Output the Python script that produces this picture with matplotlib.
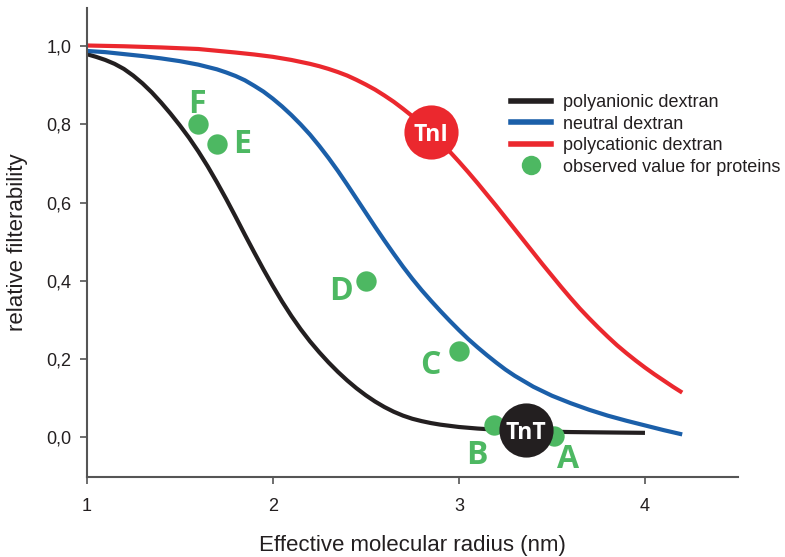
#!/usr/bin/env python3

import matplotlib

matplotlib.use("Agg")
import matplotlib.pyplot as plt
from matplotlib.lines import Line2D
from matplotlib.ticker import FuncFormatter

# Courbes de filtrabilité des dextrans (rayon en nm)
r_anion = [1.00, 1.05, 1.10, 1.15, 1.20, 1.25, 1.30, 1.35, 1.40, 1.45, 1.50,
           1.55, 1.60, 1.65, 1.70, 1.75, 1.80, 1.85, 1.90, 1.95, 2.00, 2.05,
           2.10, 2.15, 2.20, 2.25, 2.30, 2.35, 2.40, 2.45, 2.50, 2.55, 2.60,
           2.65, 2.70, 2.75, 2.80, 2.85, 2.90, 2.95, 3.00, 3.10, 3.20, 3.30,
           3.40, 3.50, 3.60, 3.80, 4.00]
f_anion = [0.980, 0.973, 0.965, 0.955, 0.942, 0.925, 0.905, 0.882, 0.856,
           0.828, 0.798, 0.766, 0.731, 0.693, 0.652, 0.609, 0.564, 0.518,
           0.473, 0.429, 0.387, 0.347, 0.310, 0.276, 0.245, 0.217, 0.191,
           0.167, 0.145, 0.125, 0.107, 0.091, 0.077, 0.065, 0.055, 0.047,
           0.041, 0.036, 0.032, 0.029, 0.026, 0.022, 0.019, 0.017, 0.015,
           0.014, 0.013, 0.012, 0.011]

r_neutre = [1.00, 1.10, 1.20, 1.30, 1.40, 1.50, 1.60, 1.70, 1.75, 1.80, 1.85,
            1.90, 1.95, 2.00, 2.05, 2.10, 2.15, 2.20, 2.25, 2.30, 2.35, 2.40,
            2.45, 2.50, 2.55, 2.60, 2.65, 2.70, 2.75, 2.80, 2.85, 2.90, 2.95,
            3.00, 3.05, 3.10, 3.15, 3.20, 3.25, 3.30, 3.40, 3.50, 3.60, 3.70,
            3.80, 3.90, 4.00, 4.10, 4.20]
f_neutre = [0.988, 0.985, 0.980, 0.975, 0.969, 0.962, 0.953, 0.941, 0.933,
            0.924, 0.913, 0.899, 0.884, 0.866, 0.846, 0.824, 0.800, 0.774,
            0.745, 0.714, 0.681, 0.646, 0.610, 0.574, 0.538, 0.503, 0.469,
            0.436, 0.405, 0.376, 0.349, 0.323, 0.298, 0.274, 0.251, 0.230,
            0.210, 0.191, 0.173, 0.157, 0.129, 0.106, 0.087, 0.070, 0.055,
            0.042, 0.030, 0.018, 0.007]

r_cation = [1.00, 1.20, 1.40, 1.60, 1.80, 1.90, 2.00, 2.10, 2.20, 2.25, 2.30,
            2.35, 2.40, 2.45, 2.50, 2.55, 2.60, 2.65, 2.70, 2.75, 2.80, 2.85,
            2.90, 2.95, 3.00, 3.05, 3.10, 3.15, 3.20, 3.25, 3.30, 3.35, 3.40,
            3.45, 3.50, 3.55, 3.60, 3.65, 3.70, 3.75, 3.80, 3.85, 3.90, 3.95,
            4.00, 4.05, 4.10, 4.15, 4.20]
f_cation = [1.002, 1.000, 0.997, 0.993, 0.984, 0.979, 0.973, 0.965, 0.955,
            0.949, 0.942, 0.934, 0.925, 0.914, 0.902, 0.889, 0.874, 0.858,
            0.840, 0.821, 0.801, 0.779, 0.756, 0.731, 0.705, 0.678, 0.650,
            0.621, 0.592, 0.562, 0.532, 0.502, 0.472, 0.442, 0.413, 0.384,
            0.356, 0.329, 0.304, 0.280, 0.257, 0.235, 0.215, 0.196, 0.178,
            0.161, 0.145, 0.129, 0.114]

# Valeurs observées pour les protéines
prot_noms = ["F", "E", "D", "C", "B", "A"]
prot_r = [1.6, 1.7, 2.5, 3.0, 3.19, 3.51]
prot_f = [0.80, 0.75, 0.40, 0.22, 0.03, 0.004]
prot_lab_r = [1.593, 1.837, 2.366, 2.849, 3.097, 3.584]
prot_lab_f = [0.862, 0.758, 0.383, 0.194, -0.036, -0.047]

# Troponines
tn_noms = ["TnT", "TnI"]
tn_r = [3.36, 2.85]
tn_f = [0.018, 0.78]

noir, bleu, rouge, vert = "#231f20", "#1b5fa9", "#eb282e", "#4db862"
gris = "#231f20"

plt.rcParams["font.family"] = ["Liberation Sans", "DejaVu Sans"]

fig = plt.figure(figsize=(7.85, 5.57), dpi=100)
ax = fig.add_axes([0.1104, 0.1436, 0.8293, 0.8414])

style = dict(lw=3, solid_capstyle="butt", solid_joinstyle="round", zorder=2)
ax.plot(r_anion, f_anion, color=noir, **style)
ax.plot(r_neutre, f_neutre, color=bleu, **style)
ax.plot(r_cation, f_cation, color=rouge, **style)

ax.scatter(prot_r, prot_f, s=215, color=vert, linewidths=0, zorder=3)
for nom, x, y in zip(prot_noms, prot_lab_r, prot_lab_f):
    ax.text(x, y, nom, color=vert, fontsize=23, fontweight="bold",
            family=["Open Sans", "DejaVu Sans"], ha="center", va="center_baseline")

for nom, x, y, c in zip(tn_noms, tn_r, tn_f, [noir, rouge]):
    ax.scatter([x], [y], s=39 ** 2, color=c, linewidths=0, zorder=4)
    ax.text(x, y, nom, color="white", fontsize=16.5, fontweight="bold",
            family=["Open Sans", "DejaVu Sans"], ha="center",
            va="center_baseline", zorder=5)

ax.set_xlim(1, 4.498)
ax.set_ylim(-0.102, 1.097)
ax.set_xticks([1, 2, 3, 4])
ax.set_yticks([0.0, 0.2, 0.4, 0.6, 0.8, 1.0])
ax.yaxis.set_major_formatter(FuncFormatter(lambda v, p: f"{v:.1f}".replace(".", ",")))

for cote in ["top", "right"]:
    ax.spines[cote].set_visible(False)
for cote in ["left", "bottom"]:
    ax.spines[cote].set_color("#555555")
    ax.spines[cote].set_linewidth(1.5)
ax.tick_params(direction="out", length=5, width=1.2, color="#555555",
               labelsize=13, labelcolor=gris, pad=6)
ax.tick_params(axis="x", pad=10)

ax.set_xlabel("Effective molecular radius (nm)", fontsize=16, color=gris, va="center")
ax.set_ylabel("relative filterability", fontsize=16, color=gris, va="center")
ax.xaxis.set_label_coords(0.5, -0.147)
ax.yaxis.set_label_coords(-0.1055, 0.5)

poignees = [
    Line2D([], [], color=noir, lw=4),
    Line2D([], [], color=bleu, lw=4),
    Line2D([], [], color=rouge, lw=4),
    Line2D([], [], color=vert, lw=0, marker="o", markersize=14, markeredgewidth=0),
]
etiquettes = ["polyanionic dextran", "neutral dextran", "polycationic dextran",
              "observed value for proteins"]
ax.legend(poignees, etiquettes, loc="upper left", bbox_to_anchor=(0.652, 0.817),
          frameon=False, fontsize=13, borderpad=0, borderaxespad=0,
          handlelength=2.2, handletextpad=0.65, labelspacing=0.25,
          labelcolor=gris)

plt.savefig("out.png", dpi=100)
